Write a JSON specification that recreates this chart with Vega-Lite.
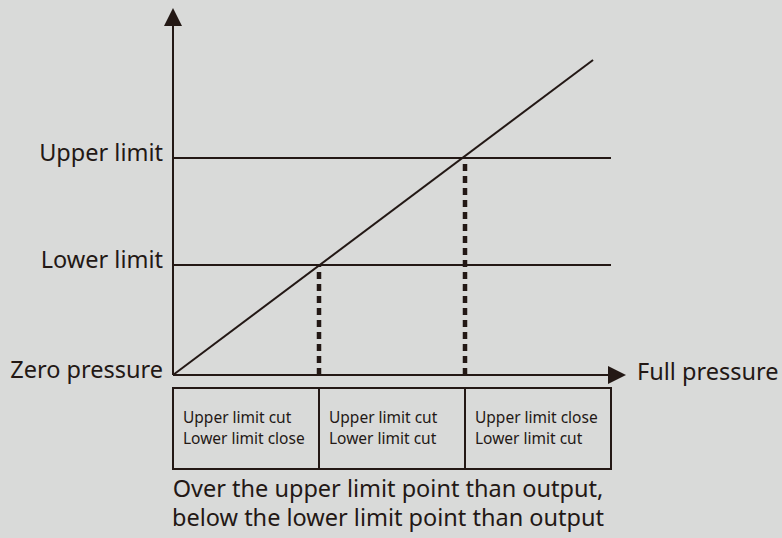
{
  "$schema": "https://vega.github.io/schema/vega-lite/v6.json",
  "width": 782,
  "height": 538,
  "autosize": "none",
  "padding": 0,
  "background": "#d9dad9",
  "config": {"view": {"stroke": null}, "text": {"font": "Noto Sans", "color": "#231815"}},
  "datasets": {
    "segments": [
      {"id": "y-axis", "x": 0, "y": 0, "x2": 0, "y2": 3.25},
      {"id": "x-axis", "x": 0, "y": 0, "x2": 3.0, "y2": 0},
      {"id": "upper", "x": 0, "y": 2.0, "x2": 3.0, "y2": 2.0},
      {"id": "lower", "x": 0, "y": 1.014, "x2": 3.0, "y2": 1.014},
      {"id": "diag", "x": 0, "y": 0, "x2": 2.877, "y2": 2.903}
    ],
    "dashed": [
      {"x": 1.0, "y": 0, "y2": 1.014},
      {"x": 2.0, "y": 0, "y2": 2.0}
    ],
    "cells": [
      {"x": 0, "x2": 1, "y": -0.12, "y2": -0.866},
      {"x": 1, "x2": 2, "y": -0.12, "y2": -0.866},
      {"x": 2, "x2": 3, "y": -0.12, "y2": -0.866}
    ],
    "cellText": [
      {"x": 0, "y": -0.4009, "t": "Upper limit cut"},
      {"x": 0, "y": -0.5853, "t": "Lower limit close"},
      {"x": 1, "y": -0.4009, "t": "Upper limit cut"},
      {"x": 1, "y": -0.5853, "t": "Lower limit cut"},
      {"x": 2, "y": -0.4009, "t": "Upper limit close"},
      {"x": 2, "y": -0.5853, "t": "Lower limit cut"}
    ],
    "leftLabels": [
      {"x": 0, "y": 2.0, "t": "Upper limit"},
      {"x": 0, "y": 1.014, "t": "Lower limit"},
      {"x": 0, "y": 0, "t": "Zero pressure"}
    ],
    "rightLabels": [
      {"x": 3.1027, "y": 0, "t": "Full pressure"}
    ],
    "caption": [
      {"x": 1.4726, "y": -1.06, "t": "Over the upper limit point than output,"},
      {"x": 1.4726, "y": -1.33, "t": "below the lower limit point than output"}
    ],
    "arrowUp": [{"x": 0, "y": 3.3825}],
    "arrowRight": [{"x": 3.1027, "y": 0}]
  },
  "layer": [
    {
      "data": {"name": "cells"},
      "mark": {"type": "rect", "fill": null, "stroke": "#231815", "strokeWidth": 2},
      "encoding": {
        "x": {"field": "x", "type": "quantitative", "scale": {"domain": [-1.18493, 4.17123], "nice": false, "zero": false}, "axis": null},
        "x2": {"field": "x2"},
        "y": {"field": "y", "type": "quantitative", "scale": {"domain": [-1.5023, 3.4562], "nice": false, "zero": false}, "axis": null},
        "y2": {"field": "y2"}
      }
    },
    {
      "data": {"name": "segments"},
      "mark": {"type": "rule", "color": "#231815", "strokeWidth": 2},
      "encoding": {
        "x": {"field": "x", "type": "quantitative"},
        "x2": {"field": "x2"},
        "y": {"field": "y", "type": "quantitative"},
        "y2": {"field": "y2"}
      }
    },
    {
      "data": {"name": "dashed"},
      "mark": {"type": "rule", "color": "#231815", "strokeWidth": 4.5, "strokeDash": [7, 5]},
      "encoding": {
        "x": {"field": "x", "type": "quantitative"},
        "y": {"field": "y", "type": "quantitative"},
        "y2": {"field": "y2"}
      }
    },
    {
      "data": {"name": "arrowUp"},
      "mark": {"type": "point", "shape": "M0,0L-1,2L1,2Z", "size": 324, "filled": true, "color": "#231815", "opacity": 1},
      "encoding": {
        "x": {"field": "x", "type": "quantitative"},
        "y": {"field": "y", "type": "quantitative"}
      }
    },
    {
      "data": {"name": "arrowRight"},
      "mark": {"type": "point", "shape": "M0,0L-2,-1L-2,1Z", "size": 324, "filled": true, "color": "#231815", "opacity": 1},
      "encoding": {
        "x": {"field": "x", "type": "quantitative"},
        "y": {"field": "y", "type": "quantitative"}
      }
    },
    {
      "data": {"name": "cellText"},
      "mark": {"type": "text", "align": "left", "baseline": "middle", "dx": 10, "fontSize": 15.5},
      "encoding": {
        "x": {"field": "x", "type": "quantitative"},
        "y": {"field": "y", "type": "quantitative"},
        "text": {"field": "t"}
      }
    },
    {
      "data": {"name": "leftLabels"},
      "mark": {"type": "text", "align": "right", "baseline": "middle", "dx": -10, "dy": -4, "fontSize": 23.5},
      "encoding": {
        "x": {"field": "x", "type": "quantitative"},
        "y": {"field": "y", "type": "quantitative"},
        "text": {"field": "t"}
      }
    },
    {
      "data": {"name": "rightLabels"},
      "mark": {"type": "text", "align": "left", "baseline": "middle", "dx": 11, "dy": -2, "fontSize": 23.5},
      "encoding": {
        "x": {"field": "x", "type": "quantitative"},
        "y": {"field": "y", "type": "quantitative"},
        "text": {"field": "t"}
      }
    },
    {
      "data": {"name": "caption"},
      "mark": {"type": "text", "align": "center", "baseline": "middle", "fontSize": 23.5},
      "encoding": {
        "x": {"field": "x", "type": "quantitative"},
        "y": {"field": "y", "type": "quantitative"},
        "text": {"field": "t"}
      }
    }
  ]
}
